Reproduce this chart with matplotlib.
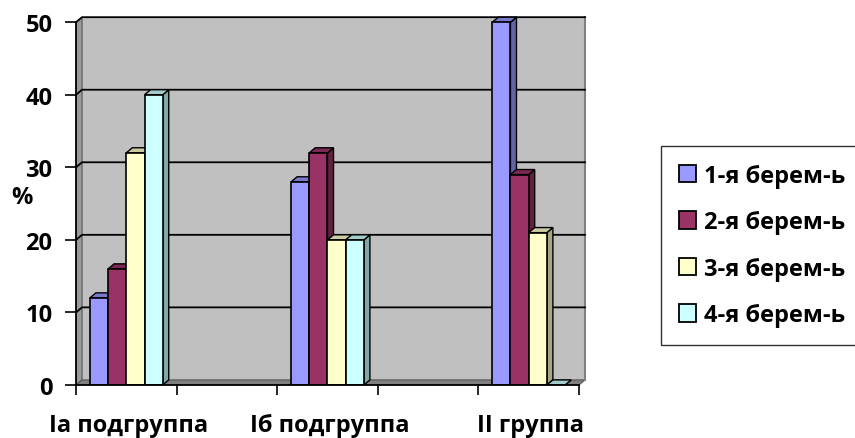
import matplotlib
matplotlib.use("Agg")
import matplotlib.pyplot as plt
from matplotlib.patches import Polygon, Rectangle, Patch
from matplotlib.colors import to_rgb

plt.rcParams['font.family'] = ['Open Sans', 'DejaVu Sans']
plt.rcParams['font.weight'] = 'bold'

groups = ['Ia подгруппа', 'Iб подгруппа', 'II группа']
series = ['1-я берем-ь', '2-я берем-ь', '3-я берем-ь', '4-я берем-ь']
values = [
    [12, 16, 32, 40],   # Ia
    [28, 32, 20, 20],   # Iб
    [50, 29, 21, 0],    # II
]
colors = ['#9999FF', '#993366', '#FFFFCC', '#CCFFFF']
yticks = [0, 10, 20, 30, 40, 50]

# layout helpers
group_pos = [0.5, 2.5, 4.5]
bar_w = 0.181
dx, dy = 0.06, 0.7  # 3d depth offset in data units
fs = 17


def shade(c, f):
    r, g, b = to_rgb(c)
    return (r * f, g * f, b * f)


fig = plt.figure(figsize=(8.55, 4.39), dpi=100)
ax = fig.add_axes([76 / 855, 53 / 439, 513 / 855, 370 / 439])
ax.set_xlim(0, 5.1)
ax.set_ylim(0, 51)
ax.patch.set_visible(False)

# walls and floor
ax.add_patch(Rectangle((dx, dy), 5, 50, facecolor='#C0C0C0',
                       edgecolor='none', zorder=0))
ax.add_patch(Polygon([(0, 0), (dx, dy), (dx, 50 + dy), (0, 50)],
                     facecolor='#9a9a9a', edgecolor='#555555', lw=0.8, zorder=0))
ax.add_patch(Polygon([(0, 0), (5, 0), (5 + dx, dy), (dx, dy)],
                     facecolor='#808080', edgecolor='#555555', lw=0.8, zorder=1))
ax.plot([5 + dx, 5 + dx], [dy, 50 + dy], color='#808080', lw=1.5, zorder=1)
for v in yticks[1:]:
    ax.plot([0, dx, 5 + dx], [v, v + dy, v + dy], color='black', lw=1.3, zorder=1)

# 3d bars
for g, vals in zip(group_pos, values):
    x0 = g - 2 * bar_w
    for i, (v, c) in enumerate(zip(vals, colors)):
        x = x0 + i * bar_w
        z = 2 + i
        ax.add_patch(Polygon([(x + bar_w, 0), (x + bar_w + dx, dy),
                              (x + bar_w + dx, v + dy), (x + bar_w, v)],
                             facecolor=shade(c, 0.65), edgecolor='black',
                             lw=1.0, zorder=z))
        ax.add_patch(Polygon([(x, v), (x + dx, v + dy),
                              (x + bar_w + dx, v + dy), (x + bar_w, v)],
                             facecolor=shade(c, 0.8), edgecolor='black',
                             lw=1.0, zorder=z))
        if v > 0:
            ax.add_patch(Rectangle((x, 0), bar_w, v, facecolor=c,
                                   edgecolor='black', lw=1.2, zorder=z))

# axes
for s in ['top', 'right']:
    ax.spines[s].set_visible(False)
ax.spines['left'].set_bounds(0, 50)
ax.spines['bottom'].set_bounds(0, 5)
ax.spines['left'].set_linewidth(1.3)
ax.spines['bottom'].set_linewidth(1.3)
ax.spines['bottom'].set_zorder(10)
ax.set_yticks(yticks)
ax.set_yticklabels([str(v) for v in yticks])
ax.set_xticks(range(6))
ax.set_xticklabels([])
ax.tick_params(axis='y', length=8, width=1.2, labelsize=fs, pad=9)
ax.tick_params(axis='x', length=7, width=1.2)
for g, name in zip(group_pos, groups):
    ax.text(g + 0.02, -3.9, name, ha='center', va='top', fontsize=fs,
            fontweight='bold')
fig.text(22 / 855, 1 - 198 / 439, '%', ha='center', va='center',
         fontsize=fs, fontweight='bold')

handles = [Patch(facecolor=c, edgecolor='black', lw=1.3) for c in colors]
leg = fig.legend(handles, series, loc='upper left', mode='expand',
                 bbox_to_anchor=(661 / 855, 1 - 147 / 439, 0.3, 0),
                 prop={'size': fs, 'weight': 'bold'}, frameon=True,
                 fancybox=False, edgecolor='black', handlelength=0.75,
                 handleheight=0.75, handletextpad=0.3, labelspacing=0.95,
                 borderpad=0.75, borderaxespad=0)
leg.get_frame().set_linewidth(1.0)

fig.savefig('out.png', dpi=100)
